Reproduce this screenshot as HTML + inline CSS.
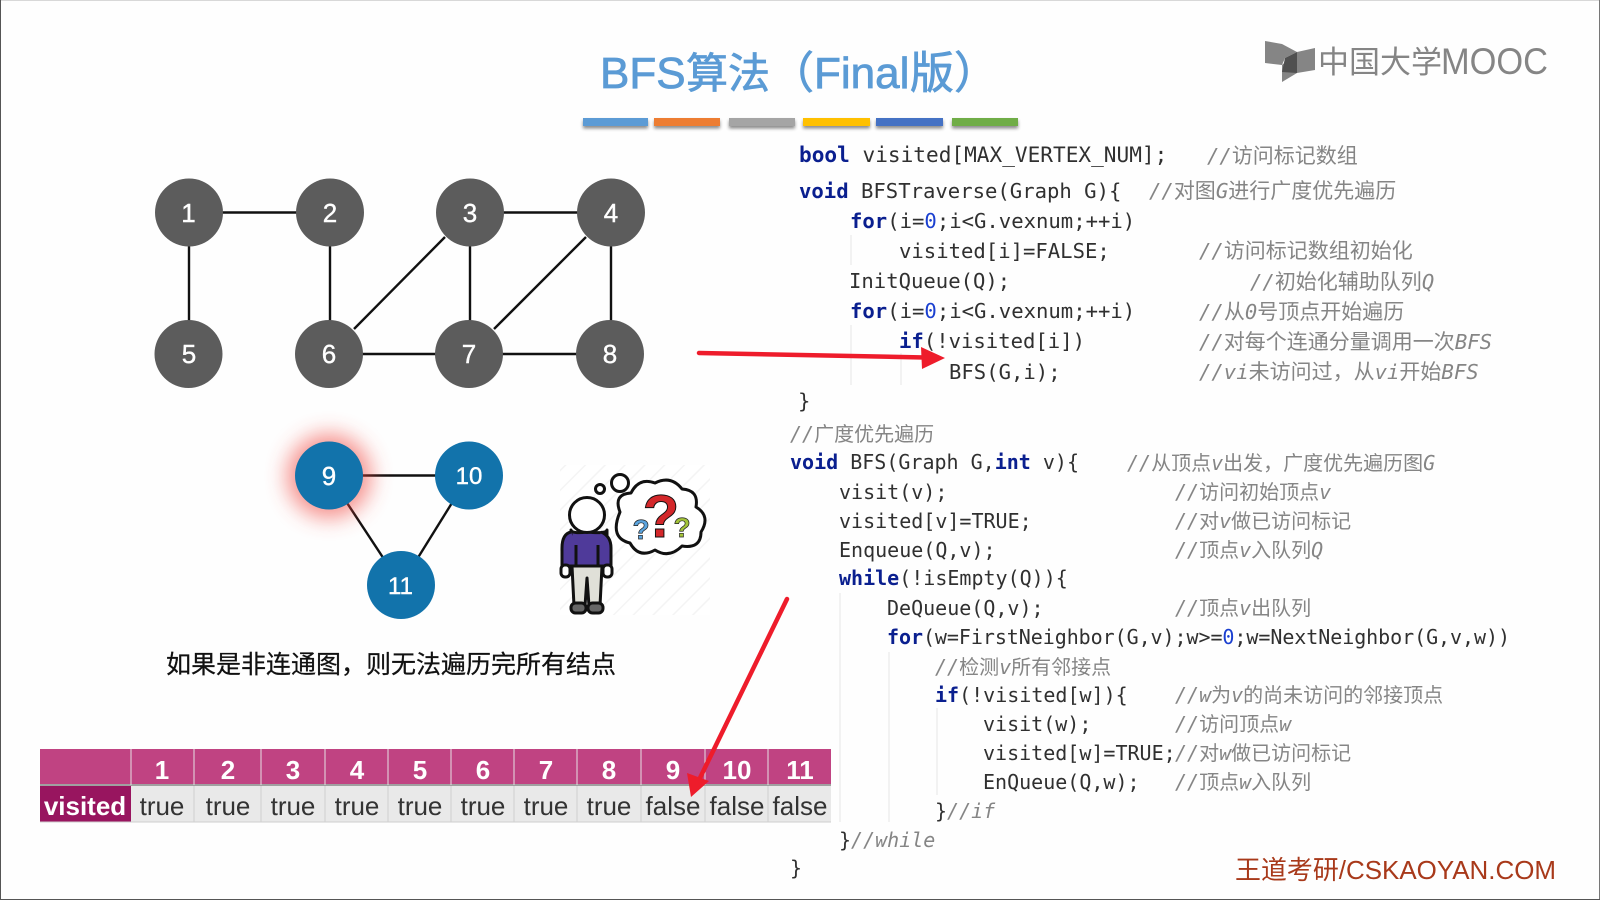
<!DOCTYPE html>
<html lang="zh"><head><meta charset="utf-8"><title>BFS算法（Final版）</title>
<style>
html,body{margin:0;padding:0;background:#fff}
svg{display:block}
text{white-space:pre}
.c{font:20px "DejaVu Sans Mono","Noto Sans CJK SC",monospace;fill:#303030}
.t{font-size:20.6px}
.b{font-size:21.1px}
.k{font-weight:bold;fill:#0a1f8f}
.n{fill:#1a3fd0}
.m{font:21px "Noto Sans CJK SC","Liberation Sans",sans-serif;fill:#858585}
.m .i{font:italic 20.6px "DejaVu Sans Mono",monospace}
.m2{font:20px "Noto Sans CJK SC","Liberation Sans",sans-serif;fill:#858585}
.m2 .i{font:italic 20px "DejaVu Sans Mono",monospace}
.node{font:26px "Liberation Sans",sans-serif;fill:#fff;text-anchor:middle;stroke:#fff;stroke-width:.4}
.hd{font:bold 26px "Liberation Sans",sans-serif;fill:#fff;text-anchor:middle}
.td{font:26px "Liberation Sans",sans-serif;fill:#333;text-anchor:middle}
</style></head><body>
<svg width="1600" height="900" viewBox="0 0 1600 900" xmlns="http://www.w3.org/2000/svg">
<defs>
<filter id="glow" x="-100%" y="-100%" width="300%" height="300%"><feGaussianBlur stdDeviation="11"/></filter>
<filter id="sh" x="-5%" y="-50%" width="110%" height="300%"><feDropShadow dx="0" dy="2.5" stdDeviation="1.5" flood-color="#000" flood-opacity=".45"/></filter>
<pattern id="hatch" width="14" height="14" patternUnits="userSpaceOnUse" patternTransform="rotate(45)"><rect width="14" height="14" fill="#fff"/><line x1="0" y1="0" x2="0" y2="14" stroke="#efefef" stroke-width="3"/></pattern>
</defs>
<rect width="1600" height="900" fill="#fefefe"/>
<rect x="0" y="0" width="1600" height="1" fill="#d8d8d8"/>
<rect x="0" y="0" width="1" height="900" fill="#555"/>
<rect x="1599" y="0" width="1" height="900" fill="#777"/>
<rect x="0" y="899" width="1600" height="1" fill="#555"/>

<!-- Title -->
<text y="88" font-family="'Liberation Sans','Noto Sans CJK SC',sans-serif" font-size="44" fill="#5b9bd5" stroke="#5b9bd5" stroke-width=".8"><tspan x="600">BFS</tspan><tspan x="686" font-size="42">算法</tspan><tspan x="770">（</tspan><tspan x="814">Final</tspan><tspan x="910">版</tspan><tspan x="954">）</tspan></text>
<g filter="url(#sh)">
<rect x="583" y="118" width="65" height="8" fill="#5b9bd5"/>
<rect x="654" y="118" width="66" height="8" fill="#ed7d31"/>
<rect x="729" y="118" width="66" height="8" fill="#a5a5a5"/>
<rect x="803" y="118" width="67" height="8" fill="#ffc000"/>
<rect x="876" y="118" width="67" height="8" fill="#4472c4"/>
<rect x="952" y="118" width="66" height="8" fill="#70ad47"/>
</g>

<!-- Logo -->
<polygon points="1265,41 1282,44 1297,52 1285,58 1282,65 1265,63" fill="#858585"/>
<polygon points="1297,52 1315,48 1315,70 1297,73 1282,82 1282,65" fill="#858585"/>
<polygon points="1297,52 1285,58 1282,72 1297,73" fill="#505050"/>
<text x="1318" y="73" font-family="'Noto Sans CJK SC',sans-serif" font-size="31" fill="#858585">中国大学</text>
<text x="1441" y="74" font-family="'Liberation Sans',sans-serif" font-size="37" fill="#858585" textLength="107" lengthAdjust="spacingAndGlyphs">MOOC</text>

<!-- Graph edges -->
<g stroke="#111" stroke-width="2.4" fill="none">
<line x1="189" y1="212.5" x2="330" y2="212.5"/><line x1="470" y1="212.5" x2="611" y2="212.5"/>
<line x1="189" y1="212" x2="189" y2="354"/><line x1="330" y1="212" x2="330" y2="354"/>
<line x1="470" y1="212" x2="470" y2="354"/><line x1="611" y1="212" x2="611" y2="354"/>
<line x1="329" y1="354" x2="610" y2="354"/>
<line x1="445" y1="237" x2="354" y2="329"/><line x1="586" y1="237" x2="494" y2="329"/>
<line x1="329" y1="475.5" x2="469" y2="475.5"/><line x1="329" y1="475.5" x2="401" y2="585"/><line x1="469" y1="475.5" x2="401" y2="585"/>
</g>
<g fill="#5c5c5c">
<circle cx="189" cy="212.5" r="34"/><circle cx="330" cy="212.5" r="34"/><circle cx="470" cy="212.5" r="34"/><circle cx="611" cy="212.5" r="34"/>
<circle cx="188.5" cy="354" r="34"/><circle cx="329" cy="354" r="34"/><circle cx="469" cy="354" r="34"/><circle cx="610" cy="354" r="34"/>
</g>
<circle cx="329" cy="476" r="42" fill="#f0443c" opacity=".6" filter="url(#glow)"/>
<g fill="#1273ab">
<circle cx="329" cy="475.5" r="34"/><circle cx="469" cy="475.5" r="34"/><circle cx="401" cy="585" r="34"/>
</g>
<text class="node" x="188.5" y="222">1</text><text class="node" x="330" y="222">2</text><text class="node" x="470" y="222">3</text><text class="node" x="611" y="222">4</text>
<text class="node" x="189" y="363">5</text><text class="node" x="329" y="363">6</text><text class="node" x="469" y="363">7</text><text class="node" x="610" y="363">8</text>
<text class="node" x="329" y="485">9</text>
<text class="node" x="469" y="484" style="font-size:24px">10</text>
<text class="node" x="400.5" y="594" style="font-size:24px">11</text>

<!-- Person illustration -->
<rect x="560" y="465" width="150" height="150" fill="url(#hatch)" opacity=".7"/>
<g stroke="#111" stroke-width="3" stroke-linejoin="round">
<path d="M571 565 L571 530 Q572 534 587 532 Q606 534 607 530 L607 565 L600 566 L600 570 L576 570 L576 566Z" fill="#4f3a9a"/>
<path d="M571 532 Q562 534 562 548 L562 566 L576 566 L576 545" fill="#4f3a9a"/>
<path d="M601 532 Q611 536 611 548 L611 566 L598 566 L598 545" fill="#4f3a9a"/>
<rect x="561" y="565" width="9" height="12" rx="4" fill="#fff"/>
<rect x="603" y="565" width="9" height="12" rx="4" fill="#fff"/>
<path d="M572 566 L602 566 L600 606 L589 606 L587 578 L585 606 L574 606Z" fill="#e0e0d8"/>
<rect x="571" y="603" width="15" height="10" rx="4.5" fill="#666"/>
<rect x="588" y="603" width="15" height="10" rx="4.5" fill="#666"/>
<circle cx="587" cy="515" r="17.5" fill="#fff"/>
<circle cx="600" cy="489" r="4.5" fill="#fff"/>
<circle cx="620" cy="483" r="8.5" fill="#fff"/>
<path d="M620 512 Q613 494 631 493 Q639 477 655 483 Q671 475 682 489 Q699 490 696 507 Q711 516 701 532 Q701 549 682 546 Q669 559 655 550 Q639 559 630 543 Q609 538 620 512Z" fill="#fff"/>
</g>
<text x="661" y="537" font-family="'Liberation Sans',sans-serif" font-weight="bold" font-size="60" fill="#d3272a" stroke="#111" stroke-width="1" text-anchor="middle">?</text>
<text x="641" y="539" font-family="'Liberation Sans',sans-serif" font-weight="bold" font-size="28" fill="#5ba4de" stroke="#222" stroke-width=".7" text-anchor="middle">?</text>
<text x="682" y="537" font-family="'Liberation Sans',sans-serif" font-weight="bold" font-size="28" fill="#a4c43a" stroke="#222" stroke-width=".7" text-anchor="middle">?</text>

<!-- Caption -->
<text x="166" y="673" font-family="'Noto Sans CJK SC',sans-serif" font-size="25" fill="#111" stroke="#111" stroke-width=".25">如果是非连通图，则无法遍历完所有结点</text>

<!-- Table -->
<rect x="40" y="749" width="791" height="36" fill="#c04382"/>
<rect x="131" y="786" width="700" height="36" fill="#e9e9e9"/>
<rect x="40" y="786" width="91" height="36" fill="#98155f"/>
<rect x="40" y="784" width="791" height="2" fill="#a0a0a0"/>
<g stroke="#e6e0e4" stroke-width="1">
<line x1="131" y1="749" x2="131" y2="785"/><line x1="194" y1="749" x2="194" y2="785"/><line x1="261" y1="749" x2="261" y2="785"/><line x1="325" y1="749" x2="325" y2="785"/><line x1="388" y1="749" x2="388" y2="785"/><line x1="451" y1="749" x2="451" y2="785"/><line x1="514" y1="749" x2="514" y2="785"/><line x1="577" y1="749" x2="577" y2="785"/><line x1="641" y1="749" x2="641" y2="785"/><line x1="705" y1="749" x2="705" y2="785"/><line x1="768" y1="749" x2="768" y2="785"/>
</g>
<g stroke="#cfcfcf" stroke-width="1">
<line x1="194" y1="786" x2="194" y2="822"/><line x1="261" y1="786" x2="261" y2="822"/><line x1="325" y1="786" x2="325" y2="822"/><line x1="388" y1="786" x2="388" y2="822"/><line x1="451" y1="786" x2="451" y2="822"/><line x1="514" y1="786" x2="514" y2="822"/><line x1="577" y1="786" x2="577" y2="822"/><line x1="641" y1="786" x2="641" y2="822"/><line x1="705" y1="786" x2="705" y2="822"/><line x1="768" y1="786" x2="768" y2="822"/><line x1="40" y1="822" x2="831" y2="822"/>
</g>
<text class="hd" x="162" y="779">1</text><text class="hd" x="228" y="779">2</text><text class="hd" x="293" y="779">3</text><text class="hd" x="357" y="779">4</text><text class="hd" x="420" y="779">5</text><text class="hd" x="483" y="779">6</text><text class="hd" x="546" y="779">7</text><text class="hd" x="609" y="779">8</text><text class="hd" x="673" y="779">9</text><text class="hd" x="737" y="779">10</text><text class="hd" x="800" y="779">11</text>
<text class="hd" x="85" y="815">visited</text>
<text class="td" x="162" y="815">true</text><text class="td" x="228" y="815">true</text><text class="td" x="293" y="815">true</text><text class="td" x="357" y="815">true</text><text class="td" x="420" y="815">true</text><text class="td" x="483" y="815">true</text><text class="td" x="546" y="815">true</text><text class="td" x="609" y="815">true</text><text class="td" x="673" y="815">false</text><text class="td" x="737" y="815">false</text><text class="td" x="800" y="815">false</text>

<!-- Indent guides -->
<g stroke="#e6e6e6" stroke-width="1">
<line x1="851" y1="235" x2="851" y2="265"/><line x1="851" y1="325" x2="851" y2="385"/><line x1="901" y1="353" x2="901" y2="385"/>
<line x1="840" y1="593" x2="840" y2="822"/><line x1="889" y1="652" x2="889" y2="822"/><line x1="937" y1="708" x2="937" y2="795"/>
</g>

<!-- Code -->
<text class="c b" x="799" y="162"><tspan class="k">bool</tspan> visited[MAX_VERTEX_NUM];</text>
<text class="m" x="1207" y="163"><tspan class="i">//</tspan>访问标记数组</text>
<text class="c t" x="799" y="198"><tspan class="k">void</tspan> BFSTraverse(Graph G){</text>
<text class="m" x="1149" y="198"><tspan class="i">//</tspan>对图<tspan class="i">G</tspan>进行广度优先遍历</text>
<text class="c t" x="850" y="228"><tspan class="k">for</tspan>(i=<tspan class="n">0</tspan>;i&lt;G.vexnum;++i)</text>
<text class="c t" x="899" y="258">visited[i]=FALSE;</text>
<text class="m" x="1199" y="258"><tspan class="i">//</tspan>访问标记数组初始化</text>
<text class="c t" x="849" y="288">InitQueue(Q);</text>
<text class="m" x="1250" y="289"><tspan class="i">//</tspan>初始化辅助队列<tspan class="i">Q</tspan></text>
<text class="c t" x="850" y="318"><tspan class="k">for</tspan>(i=<tspan class="n">0</tspan>;i&lt;G.vexnum;++i)</text>
<text class="m" x="1199" y="319"><tspan class="i">//</tspan>从<tspan class="i">0</tspan>号顶点开始遍历</text>
<text class="c t" x="899" y="348"><tspan class="k">if</tspan>(!visited[i])</text>
<text class="m" x="1199" y="349"><tspan class="i">//</tspan>对每个连通分量调用一次<tspan class="i">BFS</tspan></text>
<text class="c t" x="949" y="379">BFS(G,i);</text>
<text class="m" x="1199" y="379"><tspan class="i">//vi</tspan>未访问过，从<tspan class="i">vi</tspan>开始<tspan class="i">BFS</tspan></text>
<text class="c t" x="798" y="408">}</text>
<text class="m2" x="790" y="441"><tspan class="i">//</tspan>广度优先遍历</text>
<text class="c" x="790" y="469"><tspan class="k">void</tspan> BFS(Graph G,<tspan class="k">int</tspan> v){</text>
<text class="m2" x="1127" y="470"><tspan class="i">//</tspan>从顶点<tspan class="i">v</tspan>出发，广度优先遍历图<tspan class="i">G</tspan></text>
<text class="c" x="839" y="499">visit(v);</text>
<text class="m2" x="1175" y="499"><tspan class="i">//</tspan>访问初始顶点<tspan class="i">v</tspan></text>
<text class="c" x="839" y="528">visited[v]=TRUE;</text>
<text class="m2" x="1175" y="528"><tspan class="i">//</tspan>对<tspan class="i">v</tspan>做已访问标记</text>
<text class="c" x="839" y="557">Enqueue(Q,v);</text>
<text class="m2" x="1175" y="557"><tspan class="i">//</tspan>顶点<tspan class="i">v</tspan>入队列<tspan class="i">Q</tspan></text>
<text class="c" x="839" y="585"><tspan class="k">while</tspan>(!isEmpty(Q)){</text>
<text class="c" x="887" y="615">DeQueue(Q,v);</text>
<text class="m2" x="1175" y="615"><tspan class="i">//</tspan>顶点<tspan class="i">v</tspan>出队列</text>
<text class="c" x="887" y="644" textLength="623"><tspan class="k">for</tspan>(w=FirstNeighbor(G,v);w&gt;=<tspan class="n">0</tspan>;w=NextNeighbor(G,v,w))</text>
<text class="m2" x="935" y="674"><tspan class="i">//</tspan>检测<tspan class="i">v</tspan>所有邻接点</text>
<text class="c" x="935" y="702"><tspan class="k">if</tspan>(!visited[w]){</text>
<text class="m2" x="1175" y="702"><tspan class="i">//w</tspan>为<tspan class="i">v</tspan>的尚未访问的邻接顶点</text>
<text class="c" x="983" y="731">visit(w);</text>
<text class="m2" x="1175" y="731"><tspan class="i">//</tspan>访问顶点<tspan class="i">w</tspan></text>
<text class="c" x="983" y="760">visited[w]=TRUE;</text>
<text class="m2" x="1175" y="760"><tspan class="i">//</tspan>对<tspan class="i">w</tspan>做已访问标记</text>
<text class="c" x="983" y="789">EnQueue(Q,w);</text>
<text class="m2" x="1175" y="789"><tspan class="i">//</tspan>顶点<tspan class="i">w</tspan>入队列</text>
<text class="c" x="935" y="818">}<tspan class="m2"><tspan class="i">//if</tspan></tspan></text>
<text class="c" x="839" y="847">}<tspan class="m2"><tspan class="i">//while</tspan></tspan></text>
<text class="c" x="790" y="875">}</text>

<!-- Watermark -->
<text x="1235" y="879" font-family="'Liberation Sans','Noto Sans CJK SC',sans-serif" font-size="26" fill="#a8391a" textLength="321" lengthAdjust="spacingAndGlyphs">王道考研/CSKAOYAN.COM</text>

<!-- Red arrows -->
<line x1="699" y1="353" x2="925" y2="357.5" stroke="#ee1c2b" stroke-width="4.5" stroke-linecap="round"/>
<polygon points="945,358 921,347 922,369" fill="#ee1c2b"/>
<line x1="787" y1="599" x2="699" y2="780" stroke="#ee1c2b" stroke-width="4.5" stroke-linecap="round"/>
<polygon points="691,797 687,773 709,781" fill="#ee1c2b"/>
</svg>
</body></html>
